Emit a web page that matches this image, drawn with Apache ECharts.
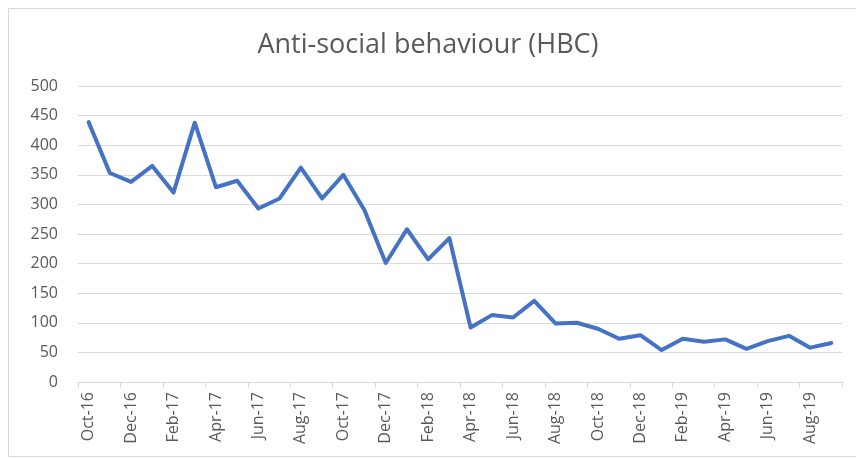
<!DOCTYPE html>
<html>
<head>
<meta charset="utf-8">
<script src="https://cdn.jsdelivr.net/npm/echarts@6/dist/echarts.min.js"></script>
<style>
  html, body { margin: 0; padding: 0; background: #fff; }
  #chart { width: 856px; height: 458px; }
</style>
</head>
<body>
<div id="chart"></div>
<script>
const categories = [
  'Oct-16', 'Nov-16', 'Dec-16', 'Jan-17', 'Feb-17', 'Mar-17', 'Apr-17', 'May-17', 'Jun-17',
  'Jul-17', 'Aug-17', 'Sep-17', 'Oct-17', 'Nov-17', 'Dec-17', 'Jan-18', 'Feb-18', 'Mar-18',
  'Apr-18', 'May-18', 'Jun-18', 'Jul-18', 'Aug-18', 'Sep-18', 'Oct-18', 'Nov-18', 'Dec-18',
  'Jan-19', 'Feb-19', 'Mar-19', 'Apr-19', 'May-19', 'Jun-19', 'Jul-19', 'Aug-19', 'Sep-19'
]
const values = [
  439, 353, 338, 365, 320, 438, 329, 340, 293,
  310, 362, 310, 350, 290, 201, 258, 207, 243,
  92, 113, 109, 137, 99, 100, 90, 73, 79,
  54, 73, 68, 72, 56, 69, 78, 58, 66
]
const yTicks = [0, 50, 100, 150, 200, 250, 300, 350, 400, 450, 500]

const chart = echarts.init(document.getElementById('chart'))
const font = '"Open Sans", sans-serif'
const option = {
  animation: false,
  title: {
    text: 'Anti-social behaviour (HBC)',
    left: 'center',
    top: 27,
    textStyle: {
      color: '#595959',
      fontFamily: font,
      fontWeight: 'normal',
      fontSize: 27
    }
  },
  graphic: [
    {
      type: 'rect',
      shape: { x: 8.5, y: 8.5, width: 860, height: 448 },
      style: { fill: 'none', stroke: '#d9d9d9', lineWidth: 1 },
      silent: true
    }
  ],
  grid: {
    left: 78,
    right: 14,
    top: 86,
    bottom: 76
  },
  xAxis: {
    type: 'category',
    data: categories,
    boundaryGap: true,
    axisLine: { lineStyle: { color: '#d9d9d9', width: 1 } },
    axisTick: { show: true, interval: 1, length: 6, lineStyle: { color: '#d9d9d9' } },
    axisLabel: {
      interval: 1,
      rotate: 90,
      color: '#595959',
      fontFamily: font,
      fontSize: 16,
      margin: 10
    }
  },
  yAxis: {
    type: 'value',
    min: yTicks[0],
    max: yTicks[yTicks.length - 1],
    interval: 50,
    axisLine: { show: false },
    axisTick: { show: false },
    splitLine: { lineStyle: { color: '#d9d9d9', width: 1 } },
    axisLabel: {
      color: '#595959',
      fontFamily: font,
      fontSize: 16,
      margin: 20
    }
  },
  series: [
    {
      type: 'line',
      data: values,
      symbol: 'none',
      lineStyle: { color: '#4472C4', width: 4, join: 'round', cap: 'round' }
    }
  ]
}
chart.setOption(option)
</script>
</body>
</html>
